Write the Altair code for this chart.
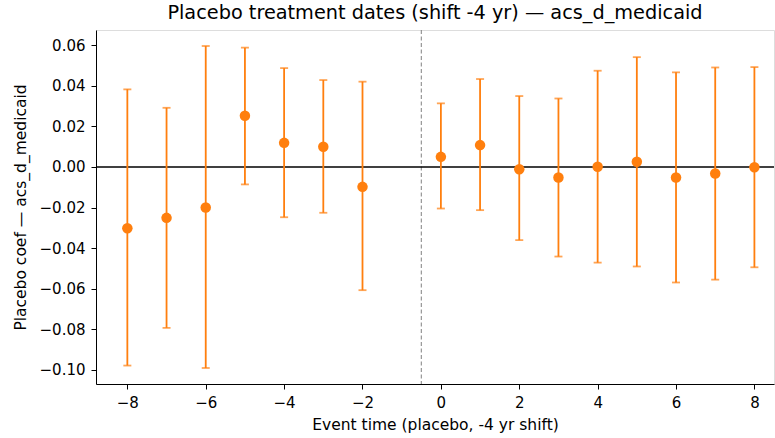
import altair as alt
import pandas as pd

event_time = [-8, -7, -6, -5, -4, -3, -2, 0, 1, 2, 3, 4, 5, 6, 7, 8]
coef = [-0.0302, -0.0251, -0.0200, 0.0253, 0.0119, 0.0100, -0.0098,
        0.0050, 0.0108, -0.0011, -0.0052, 0.0001, 0.0026, -0.0052, -0.0032, -0.0001]
ci_low = [-0.0980, -0.0794, -0.0992, -0.0086, -0.0248, -0.0226, -0.0608,
          -0.0205, -0.0213, -0.0361, -0.0442, -0.0472, -0.0491, -0.0570, -0.0556, -0.0495]
ci_high = [0.0383, 0.0292, 0.0597, 0.0589, 0.0488, 0.0429, 0.0421,
           0.0314, 0.0434, 0.0350, 0.0338, 0.0475, 0.0542, 0.0467, 0.0491, 0.0493]

df = pd.DataFrame({"t": event_time, "coef": coef, "lo": ci_low, "hi": ci_high})

ORANGE = "#ff7f0e"
FONT = "DejaVu Sans"

xscale = alt.Scale(domain=[-8.8, 8.5], nice=False, zero=False)
yscale = alt.Scale(domain=[-0.1071, 0.0676], nice=False, zero=False)

xaxis = alt.Axis(
    title="Event time (placebo, -4 yr shift)",
    values=[-8, -6, -4, -2, 0, 2, 4, 6, 8],
    labelExpr="replace(format(datum.value, 'd'), '-', '\u2212')",
    grid=False, tickSize=5, tickColor="black", domainColor="black",
    labelFont=FONT, labelFontSize=15, labelColor="black", labelPadding=6,
    titleFont=FONT, titleFontSize=15.5, titleFontWeight="normal", titleColor="black",
    titlePadding=7,
)
yaxis = alt.Axis(
    title="Placebo coef \u2014 acs_d_medicaid",
    values=[-0.10, -0.08, -0.06, -0.04, -0.02, 0.0, 0.02, 0.04, 0.06],
    labelExpr="replace(format(datum.value, '.2f'), '-', '\u2212')",
    grid=False, tickSize=5, tickColor="black", domainColor="black",
    labelFont=FONT, labelFontSize=15, labelColor="black", labelPadding=6,
    titleFont=FONT, titleFontSize=15.5, titleFontWeight="normal", titleColor="black",
    titlePadding=11,
)

base = alt.Chart(df)

zero = alt.Chart(pd.DataFrame({"y": [0.0]})).mark_rule(color="black", strokeWidth=1.4).encode(
    y=alt.Y("y:Q", scale=yscale, axis=yaxis)
)
vline = alt.Chart(pd.DataFrame({"x": [-0.5]})).mark_rule(
    color="#808080", strokeWidth=1, strokeDash=[4, 2.5]
).encode(x=alt.X("x:Q", scale=xscale, axis=xaxis))

bars = base.mark_rule(color=ORANGE, strokeWidth=1.8).encode(
    x=alt.X("t:Q", scale=xscale, axis=xaxis),
    y=alt.Y("lo:Q", scale=yscale, axis=yaxis),
    y2="hi:Q",
)
cap_lo = base.mark_tick(color=ORANGE, orient="horizontal", size=8, thickness=1.8).encode(
    x=alt.X("t:Q", scale=xscale, axis=xaxis),
    y=alt.Y("lo:Q", scale=yscale, axis=yaxis),
)
cap_hi = base.mark_tick(color=ORANGE, orient="horizontal", size=8, thickness=1.8).encode(
    x=alt.X("t:Q", scale=xscale, axis=xaxis),
    y=alt.Y("hi:Q", scale=yscale, axis=yaxis),
)
points = base.mark_circle(color=ORANGE, size=110, opacity=1).encode(
    x=alt.X("t:Q", scale=xscale, axis=xaxis),
    y=alt.Y("coef:Q", scale=yscale, axis=yaxis),
)

chart = alt.layer(vline, zero, bars, cap_lo, cap_hi, points).properties(
    width=678, height=354,
    title=alt.TitleParams(
        "Placebo treatment dates (shift -4 yr) \u2014 acs_d_medicaid",
        font=FONT, fontSize=19.3, fontWeight="normal", color="black",
        anchor="middle", offset=6,
    ),
    padding={"left": 96, "top": 30, "right": 1, "bottom": 54},
    autosize="none",
).configure_view(stroke="black", strokeWidth=1).configure(background="white")

chart.save("out.html", embed_options={"renderer": "svg", "actions": False})
